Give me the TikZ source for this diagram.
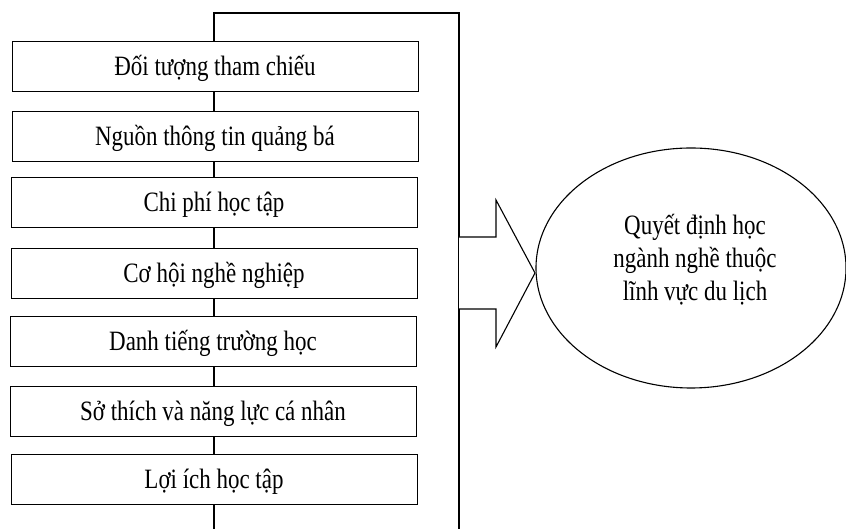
\documentclass[tikz,border=0pt]{standalone}
\usepackage{fontspec}
\setmainfont{Liberation Serif}[FakeStretch=0.82]
\usetikzlibrary{shapes.geometric}
\begin{document}
\begin{tikzpicture}[x=1pt,y=1pt,
  factor/.style={draw, line width=0.9pt, minimum width=406pt, minimum height=50pt, inner sep=0pt,
    text height=23pt, text depth=3pt, font=\fontsize{28}{33}\selectfont},
  link/.style={line width=1.6pt},
  goal/.style={draw, ellipse, line width=1.1pt, minimum width=310pt, minimum height=240pt, inner sep=0pt},
  goaltext/.style={align=center, inner sep=0pt, font=\fontsize{28}{33}\selectfont},
  bigarrow/.style={draw, line width=1.1pt, line join=miter, fill=white}]
\useasboundingbox (0,0) rectangle (846,529);
\node[factor] (b1) at (215,463) {Đối tượng tham chiếu};
\node[factor] (b2) at (215,393) {Nguồn thông tin quảng bá};
\node[factor] (b3) at (214,327) {Chi phí học tập};
\node[factor] (b4) at (214,256) {Cơ hội nghề nghiệp};
\node[factor] (b5) at (213,188) {Danh tiếng trường học};
\node[factor] (b6) at (213,118) {Sở thích và năng lực cá nhân};
\node[factor] (b7) at (214,50) {Lợi ích học tập};
\node[goal] (g) at (691,261) {};
\node[goaltext] (gt) at ([xshift=4pt,yshift=8pt]g.center) {Quyết định học\\ngành nghề thuộc\\lĩnh vực du lịch};
\coordinate (top) at (214,516);
\coordinate (tr) at (459,516);
\coordinate (br) at (459,0);
\coordinate (bl) at (214,0);
\draw[link] (b1.north -| top) -- (top) -- (tr) -- (br);
\draw[link] (b1.south -| top) -- (b2.north -| top);
\draw[link] (b2.south -| top) -- (b3.north -| top);
\draw[link] (b3.south -| top) -- (b4.north -| top);
\draw[link] (b4.south -| top) -- (b5.north -| top);
\draw[link] (b5.south -| top) -- (b6.north -| top);
\draw[link] (b6.south -| top) -- (b7.north -| top);
\draw[link] (b7.south -| top) -- (bl);
\coordinate (tip) at (535,256);
\draw[bigarrow] (459,292) -- (496,292) -- (496,329) -- (tip) -- (496,182) -- (496,220) -- (459,220);
\end{tikzpicture}
\end{document}
